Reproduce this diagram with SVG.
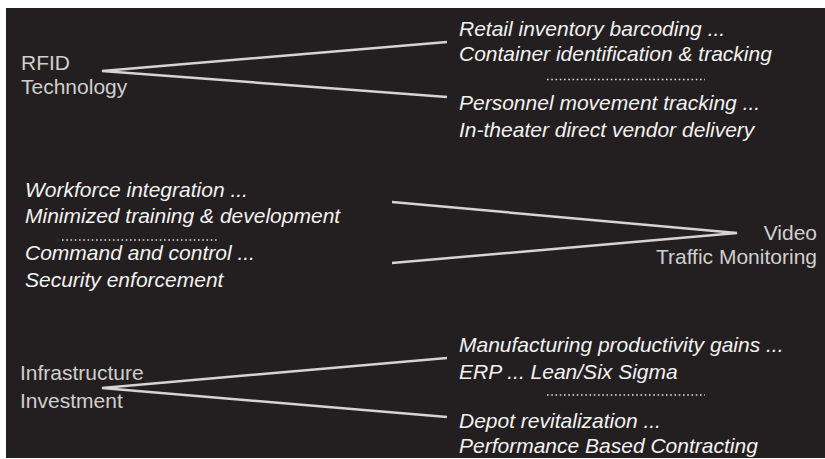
<svg xmlns="http://www.w3.org/2000/svg" width="825" height="459" viewBox="0 0 825 459">
  <style>
    .label { font-family: "Liberation Sans", Arial, sans-serif; font-size: 21px; fill: #cfcfcf; }
    .item { font-family: "Liberation Sans", Arial, sans-serif; font-size: 21px; font-style: italic; fill: #f2f2f2; }
    .dots { stroke: #e0e0e0; stroke-width: 1.6; stroke-dasharray: 1.6 2.65; fill: none; }
    .conn { stroke: #d4d4d4; stroke-width: 2.5; fill: none; stroke-linecap: butt; stroke-linejoin: miter; }
  </style>
  <rect x="6" y="8" width="819" height="450" fill="#231f20"/>

  <g id="connectors">
    <polyline class="conn" points="447,42 102,71 447,97"/>
    <polyline class="conn" points="392,202 737,233 392,263"/>
    <polyline class="conn" points="447,358 102,388 447,417"/>
  </g>

  <g id="rfid">
    <text class="label" x="21" y="70">RFID</text>
    <text class="label" x="21" y="94">Technology</text>
  </g>
  <g id="rfid-uses">
    <text class="item" x="459" y="36">Retail inventory barcoding ...</text>
    <text class="item" x="459" y="61">Container identification &amp; tracking</text>
    <line class="dots" x1="547" y1="79.5" x2="705" y2="79.5"/>
    <text class="item" x="459" y="110">Personnel movement tracking ...</text>
    <text class="item" x="459" y="137">In-theater direct vendor delivery</text>
  </g>

  <g id="video">
    <text class="label" x="817" y="240" text-anchor="end">Video</text>
    <text class="label" x="817" y="264" text-anchor="end">Traffic Monitoring</text>
  </g>
  <g id="video-uses">
    <text class="item" x="25" y="197">Workforce integration ...</text>
    <text class="item" x="25" y="223">Minimized training &amp; development</text>
    <line class="dots" x1="62" y1="240" x2="219" y2="240"/>
    <text class="item" x="25" y="260">Command and control ...</text>
    <text class="item" x="25" y="287">Security enforcement</text>
  </g>

  <g id="infrastructure">
    <text class="label" x="20" y="380">Infrastructure</text>
    <text class="label" x="20" y="408">Investment</text>
  </g>
  <g id="infrastructure-uses">
    <text class="item" x="459" y="352">Manufacturing productivity gains ...</text>
    <text class="item" x="459" y="379">ERP ... Lean/Six Sigma</text>
    <line class="dots" x1="547" y1="395" x2="705" y2="395"/>
    <text class="item" x="459" y="428">Depot revitalization ...</text>
    <text class="item" x="459" y="453">Performance Based Contracting</text>
  </g>
</svg>
